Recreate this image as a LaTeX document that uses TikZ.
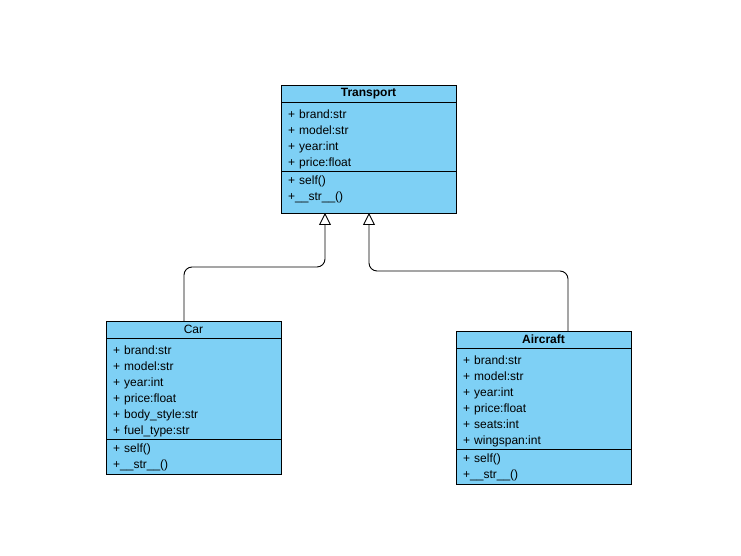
\documentclass[tikz,border=0pt]{standalone}
\usepackage{fontspec}
\setmainfont{Liberation Sans}
\usetikzlibrary{positioning,arrows.meta}
\definecolor{classblue}{RGB}{126,208,245}
\begin{document}
\begin{tikzpicture}[x=1pt, y=1pt,
  box/.style={draw, fill=classblue, line width=0.9pt, minimum width=175pt, inner sep=0pt, outer sep=0pt},
  title/.style={box, minimum height=17pt, font=\fontsize{12}{16}\selectfont},
  rows/.style={align=left, text width=161pt, inner xsep=7pt, anchor=north west, font=\fontsize{12}{16}\selectfont},
  attrs/.style={rows, inner ysep=8pt},
  ops/.style={rows, inner ysep=5pt},
  inherit/.style={line width=0.9pt, rounded corners=8pt, -{Triangle[open, length=12pt, width=12pt, fill=white]}}]
\useasboundingbox (0,0) rectangle (741,556);
% Transport
\node[title, font=\fontsize{12}{16}\selectfont\bfseries] (tt) at (368.5,462.5){Transport};
\node[box, minimum height=69pt, below=0pt of tt] (ta){};
\node[attrs] (tat) at (ta.north west){+ brand:str\\+ model:str\\+ year:int\\+ price:float};
\node[box, minimum height=42pt, below=0pt of ta] (tm){};
\node[ops] (tmt) at (tm.north west){+ self()\\+\_\_str\_\_()};
% Car
\node[title] (ct) at (193.5,226.5){Car};
\node[box, minimum height=101pt, below=0pt of ct] (ca){};
\node[attrs] (cat) at (ca.north west){+ brand:str\\+ model:str\\+ year:int\\+ price:float\\+ body\_style:str\\+ fuel\_type:str};
\node[box, minimum height=35pt, below=0pt of ca] (cm){};
\node[ops] (cmt) at (cm.north west){+ self()\\+\_\_str\_\_()};
% Aircraft
\node[title, font=\fontsize{12}{16}\selectfont\bfseries] (at) at (543.5,216.5){Aircraft};
\node[box, minimum height=101pt, below=0pt of at] (aa){};
\node[attrs] (aat) at (aa.north west){+ brand:str\\+ model:str\\+ year:int\\+ price:float\\+ seats:int\\+ wingspan:int};
\node[box, minimum height=35pt, below=0pt of aa] (am){};
\node[ops] (amt) at (am.north west){+ self()\\+\_\_str\_\_()};
% inheritance
\draw[inherit] ([xshift=-9.5pt]ct.north) |- ([xshift=-43.5pt, yshift=-54pt]tm.south) -- ([xshift=-43.5pt]tm.south);
\draw[inherit] ([xshift=24.5pt]at.north) |- ([xshift=0.5pt, yshift=-58pt]tm.south) -- ([xshift=0.5pt]tm.south);
\end{tikzpicture}
\end{document}
